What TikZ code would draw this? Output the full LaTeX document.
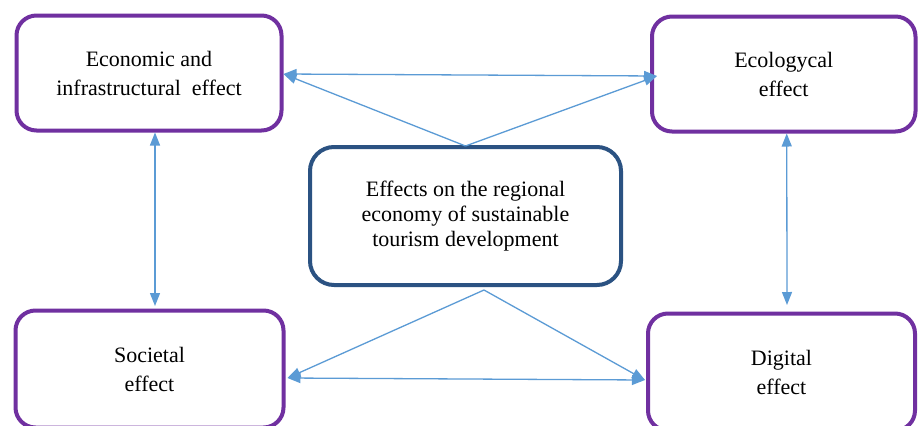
\documentclass[tikz,border=0pt]{standalone}
\usepackage{fontspec}
\setmainfont{Liberation Serif}
\usetikzlibrary{arrows.meta,calc}
\definecolor{boxpurple}{HTML}{7030A0}
\definecolor{boxblue}{HTML}{2B5282}
\definecolor{arrblue}{HTML}{5B9BD5}
\begin{document}
\begin{tikzpicture}[x=1pt,y=-1pt,
  effbox/.style={draw=boxpurple,line width=4pt,rounded corners=20pt,align=center,
    font=\fontsize{22}{29}\selectfont,inner sep=0pt},
  mainbox/.style={draw=boxblue,line width=4pt,rounded corners=24pt,align=center,
    font=\fontsize{22}{25}\selectfont,inner sep=0pt},
  link/.style={draw=arrblue,line width=1.3pt},
  tip/.style={-{Triangle[length=13pt,width=10pt]}},
  dtip/.style={{Triangle[length=13pt,width=10pt]}-{Triangle[length=13pt,width=10pt]}}]
\clip (0,0) rectangle (919,426);
\fill[white] (0,0) rectangle (919,426);
\node[effbox,minimum width=265pt,minimum height=115pt] (tl) at (149,73)
  {Economic and\\infrastructural\ \ effect};
\node[effbox,minimum width=263.5pt,minimum height=115pt] (tr) at (783.75,74)
  {Ecologycal\\effect};
\node[mainbox,minimum width=311pt,minimum height=138pt] (c) at (465.5,216)
  {Effects on the regional\\economy of sustainable\\tourism development};
\node[effbox,minimum width=268pt,minimum height=117pt] (bl) at (149.5,369)
  {Societal\\effect};
\node[effbox,minimum width=267pt,minimum height=117pt] (br) at (781.5,372)
  {Digital\\effect};
\coordinate (tlE) at ($(tl.east)+(0,1)$);
\coordinate (trW) at ($(tr.west)+(7,2)$);
\coordinate (ctop) at ($(c.north)+(0,1)$);
\coordinate (cbot) at ($(c.south)+(18.5,3)$);
\coordinate (tlS) at ($(tl.south)+(6,0)$);
\coordinate (blN) at ($(bl.north)+(5.5,-2.5)$);
\coordinate (trS) at ($(tr.south)+(3,0)$);
\coordinate (brN) at ($(br.north)+(5.5,-6.5)$);
\coordinate (blE) at ($(bl.east)+(2,9)$);
\coordinate (brW) at ($(br.west)+(-1,8)$);
\draw[link,dtip] (tlE) -- (trW);
\draw[link,tip] (ctop) -- (tlE);
\draw[link,tip] (ctop) -- (trW);
\draw[link,dtip] (tlS) -- (blN);
\draw[link,dtip] (trS) -- (brN);
\draw[link,dtip] (blE) -- (brW);
\draw[link,tip] (cbot) -- (blE);
\draw[link,tip] (cbot) -- (brW);
\end{tikzpicture}
\end{document}
